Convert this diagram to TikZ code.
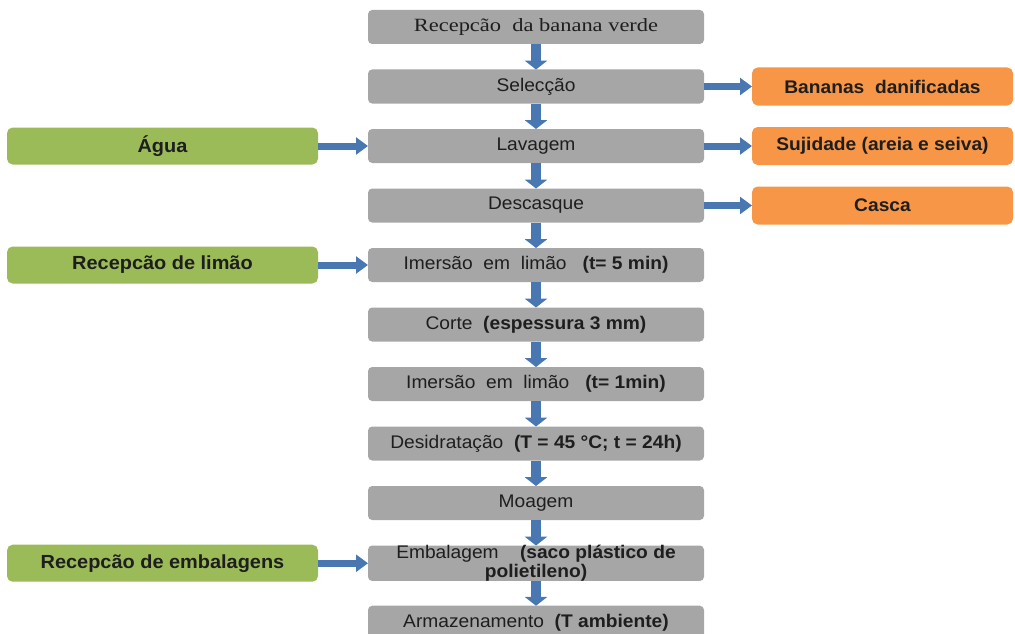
\documentclass[tikz,border=0pt]{standalone}
\usepackage{fontspec}
\setmainfont{Liberation Sans}[FakeStretch=1.05]
\newfontfamily\serifbox{Liberation Serif}[FakeStretch=1.2]
\usetikzlibrary{arrows.meta,positioning}
\definecolor{StepGray}{RGB}{166,166,166}
\definecolor{InGreen}{RGB}{155,187,89}
\definecolor{OutOrange}{RGB}{247,150,70}
\definecolor{FlowBlue}{RGB}{72,119,178}
\definecolor{TextDark}{RGB}{30,30,30}

\begin{document}
\begin{tikzpicture}[
        node distance=0.6375cm,
        every node/.style={outer sep=0pt},
        stepbox/.style={fill=StepGray, rounded corners=3pt, align=center, minimum width=8.4cm, minimum height=0.85cm, inner sep=0pt, font=\fontsize{13}{13.5}\selectfont, text=TextDark},
        inbox/.style={fill=InGreen, rounded corners=4pt, align=center, minimum width=7.775cm, minimum height=0.925cm, font=\fontsize{13.5}{15}\selectfont\bfseries, text=TextDark},
        outbox/.style={fill=OutOrange, rounded corners=4pt, align=center, minimum width=6.525cm, minimum height=0.95cm, font=\fontsize{13}{15}\selectfont\bfseries, text=TextDark},
        flow/.style={-{Triangle[length=0.22cm, width=0.55cm]}, line width=0.25cm, draw=FlowBlue},
        feed/.style={-{Triangle[length=0.3cm, width=0.42cm]}, line width=0.175cm, draw=FlowBlue}
      ]
        \useasboundingbox (0,0) rectangle (25.375,-15.85);
        \node[stepbox, font=\fontsize{13.3}{15}\selectfont\serifbox] (recep) at (13.4,-0.675) {Recepcão\ \ da banana verde};
        \node[stepbox, below=of recep] (selec) {Selecção};
        \node[stepbox, below=of selec] (lavag) {Lavagem};
        \node[stepbox, below=of lavag] (desca) {Descasque};
        \node[stepbox, below=of desca] (imer1) {Imersão\ \ em\ \ limão\ \ \ \textbf{(t= 5 min)}};
        \node[stepbox, below=of imer1] (corte) {Corte\ \ \textbf{(espessura 3 mm)}};
        \node[stepbox, below=of corte] (imer2) {Imersão\ \ em\ \ limão\ \ \ \textbf{(t= 1min)}};
        \node[stepbox, below=of imer2] (desid) {Desidratação\ \ \textbf{(T = 45 °C; t = 24h)}};
        \node[stepbox, below=of desid] (moage) {Moagem};
        \node[stepbox, below=of moage, font=\fontsize{13}{13}\selectfont] (embal) {Embalagem\ \ \ \ \textbf{(saco plástico de}\\\textbf{polietileno)}};
        \node[stepbox, below=1.0625cm of embal.center] (armaz) {Armazenamento\ \ \textbf{(T ambiente)}};
        % entradas
        \node[inbox, left=1.25cm of lavag] (agua) {Água};
        \node[inbox, left=1.25cm of imer1] (limao) {Recepcão de limão};
        \node[inbox, left=1.25cm of embal] (emblg) {Recepcão de embalagens};
        % saidas
        \node[outbox, right=1.2cm of selec] (danif) {Bananas\ \ danificadas};
        \node[outbox, right=1.2cm of lavag] (sujid) {Sujidade (areia e seiva)};
        \node[outbox, right=1.2cm of desca] (casca) {Casca};
        \draw[flow] (recep) -- (selec);
        \draw[flow] (selec) -- (lavag);
        \draw[flow] (lavag) -- (desca);
        \draw[flow] (desca) -- (imer1);
        \draw[flow] (imer1) -- (corte);
        \draw[flow] (corte) -- (imer2);
        \draw[flow] (imer2) -- (desid);
        \draw[flow] (desid) -- (moage);
        \draw[flow] (moage) -- (embal);
        \draw[flow] (embal) -- (armaz);
        \draw[feed] (agua) -- (lavag);
        \draw[feed] (limao) -- (imer1);
        \draw[feed] (emblg) -- (embal);
        \draw[feed] (selec) -- (danif);
        \draw[feed] (lavag) -- (sujid);
        \draw[feed] (desca) -- (casca);
      \end{tikzpicture}
\end{document}
